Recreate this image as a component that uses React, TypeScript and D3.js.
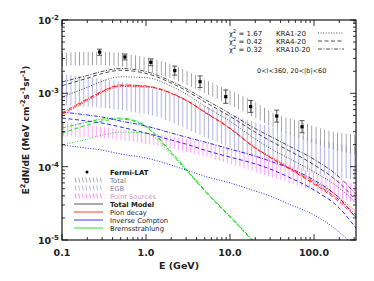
import * as d3 from "d3";
import { useEffect, useRef } from "react";

// energy grid of the model curves (GeV)
const energies = [0.1, 0.2, 0.3, 0.5, 1, 2, 3, 5, 10, 20, 30, 50, 100, 200, 316];

// pion decay, one per propagation model
const pionKRA1 = [5.0e-4, 7.9e-4, 1.02e-3, 1.24e-3, 1.22e-3, 9.9e-4, 8.0e-4, 5.5e-4, 3.35e-4, 1.82e-4, 1.38e-4, 9.9e-5, 6.3e-5, 3.8e-5, 2.4e-5];
const pionKRA4 = [5.2e-4, 8.2e-4, 1.05e-3, 1.27e-3, 1.24e-3, 1.0e-3, 8.0e-4, 5.5e-4, 3.3e-4, 1.78e-4, 1.33e-4, 9.4e-5, 5.8e-5, 3.3e-5, 2.05e-5];
const pionKRA10 = [5.4e-4, 8.4e-4, 1.07e-3, 1.3e-3, 1.26e-3, 1.01e-3, 8.1e-4, 5.6e-4, 3.35e-4, 1.8e-4, 1.35e-4, 9.6e-5, 6.0e-5, 3.5e-5, 2.2e-5];

// inverse Compton
const icKRA1 = [1.97e-4, 1.79e-4, 1.68e-4, 1.49e-4, 1.31e-4, 1.05e-4, 9.0e-5, 7.4e-5, 6.0e-5, 4.65e-5, 3.97e-5, 3.09e-5, 2.19e-5, 1.28e-5, 7.8e-6];
const icKRA4 = [4.6e-4, 4.19e-4, 3.93e-4, 3.47e-4, 2.87e-4, 2.31e-4, 2.03e-4, 1.68e-4, 1.35e-4, 1.09e-4, 9.3e-5, 7.2e-5, 4.8e-5, 2.72e-5, 1.45e-5];
const icKRA10 = [5.56e-4, 5.06e-4, 4.75e-4, 4.19e-4, 3.58e-4, 2.87e-4, 2.53e-4, 2.17e-4, 1.74e-4, 1.39e-4, 1.19e-4, 9.6e-5, 6.56e-5, 3.73e-5, 1.99e-5];

// bremsstrahlung (falls off the bottom above ~50 GeV)
const bremKRA1 = [1.97e-4, 2.38e-4, 2.7e-4, 2.96e-4, 2.87e-4, 1.45e-4, 9.0e-5, 4.7e-5, 2.1e-5, 9.0e-6, 5.4e-6, 2.9e-6, null, null, null];
const bremKRA4 = [2.87e-4, 3.69e-4, 4.19e-4, 4.46e-4, 3.47e-4, 1.53e-4, 9.0e-5, 4.65e-5, 2.05e-5, 8.8e-6, 5.3e-6, 2.9e-6, null, null, null];
const bremKRA10 = [3.36e-4, 4.06e-4, 4.46e-4, 4.6e-4, 3.58e-4, 1.58e-4, 9.3e-5, 4.8e-5, 2.12e-5, 9.1e-6, 5.5e-6, 3.0e-6, null, null, null];

// total model
const totalKRA1 = [8.9e-4, 1.21e-3, 1.46e-3, 1.68e-3, 1.64e-3, 1.25e-3, 9.8e-4, 6.7e-4, 4.16e-4, 2.38e-4, 1.78e-4, 1.3e-4, 8.5e-5, 5.1e-5, 3.2e-5];
const totalKRA4 = [1.27e-3, 1.61e-3, 1.86e-3, 2.06e-3, 1.87e-3, 1.38e-3, 1.09e-3, 7.65e-4, 4.86e-4, 2.95e-4, 2.26e-4, 1.66e-4, 1.06e-4, 6.0e-5, 3.5e-5];
const totalKRA10 = [1.43e-3, 1.75e-3, 1.99e-3, 2.18e-3, 1.98e-3, 1.46e-3, 1.16e-3, 8.3e-4, 5.3e-4, 3.3e-4, 2.6e-4, 1.92e-4, 1.26e-4, 7.2e-5, 4.2e-5];

// hatched bands
const totalBandE = [0.1, 0.3, 1, 2, 5, 10, 20, 30, 70, 150, 316];
const totalBandHi = [3.6e-3, 3.7e-3, 3.1e-3, 2.5e-3, 1.55e-3, 1.1e-3, 7.6e-4, 5.7e-4, 4.1e-4, 3.1e-4, 2.7e-4];
const totalBandLo = [2.35e-3, 2.43e-3, 2.0e-3, 1.6e-3, 1.0e-3, 7.0e-4, 4.6e-4, 3.6e-4, 2.4e-4, 1.8e-4, 1.45e-4];

const egbE = [0.1, 1.1, 4.4, 17, 68, 316];
const egbHi = [1.83e-3, 1.18e-3, 7.1e-4, 4.3e-4, 2.7e-4, 1.85e-4];
const egbLo = [6.9e-4, 5.1e-4, 2.7e-4, 1.44e-4, 9.0e-5, 6.6e-5];

const psE = [0.1, 0.28, 1.1, 4.4, 17, 68, 316];
const psHi = [4.1e-4, 3.5e-4, 2.9e-4, 2.2e-4, 1.53e-4, 9.6e-5, 5.6e-5];
const psLo = [2.6e-4, 2.5e-4, 2.0e-4, 1.44e-4, 9.0e-5, 5.4e-5, 3.2e-5];

// Fermi-LAT data
const fermiE = [0.28, 0.56, 1.14, 2.2, 4.4, 8.9, 17.6, 36, 72];
const fermiF = [3.65e-3, 3.13e-3, 2.65e-3, 2.04e-3, 1.44e-3, 9.0e-4, 6.6e-4, 4.9e-4, 3.5e-4];
const fermiHi = [4.0e-3, 3.44e-3, 2.95e-3, 2.35e-3, 1.73e-3, 1.11e-3, 8.0e-4, 5.9e-4, 4.25e-4];
const fermiLo = [3.3e-3, 2.85e-3, 2.38e-3, 1.77e-3, 1.2e-3, 7.3e-4, 5.5e-4, 4.05e-4, 2.9e-4];

const xTickValues = [0.1, 1, 10, 100];
const xTickLabels = ["0.1", "1.0", "10.0", "100.0"];
const yTickValues = [1e-2, 1e-3, 1e-4, 1e-5];
const yTickExps = ["-2", "-3", "-4", "-5"];

const modelNames = ["KRA1-20", "KRA4-20", "KRA10-20"];
const chi2 = ["1.67", "0.42", "0.32"];
const dashes = ["1,1.6", "4,2.5", "4,1.5,1,1.5"];

const legendLabels = ["Fermi-LAT", "Total", "EGB", "Point Sources", "Total Model", "Pion decay", "Inverse Compton", "Bremsstrahlung"];

export default function App() {
  const ref = useRef<SVGSVGElement>(null);

  useEffect(() => {
    document.body.style.margin = "0";
    const svg = d3.select(ref.current);
    svg.selectAll("*").remove();

    const left = 62, right = 356, top = 20, bottom = 240;
    const font = "DejaVu Sans, sans-serif";

    const x = d3.scaleLog().domain([0.1, 316]).range([left, right]);
    const y = d3.scaleLog().domain([1e-5, 1e-2]).range([bottom, top]);

    const defs = svg.append("defs");
    defs.append("clipPath").attr("id", "plotClip")
      .append("rect").attr("x", left).attr("y", top)
      .attr("width", right - left).attr("height", bottom - top);

    const hatch = (id: string, color: string, w: number, gap: number) => {
      const p = defs.append("pattern").attr("id", id)
        .attr("patternUnits", "userSpaceOnUse")
        .attr("width", gap).attr("height", 10);
      p.append("line").attr("x1", gap / 2).attr("x2", gap / 2)
        .attr("y1", 0).attr("y2", 10)
        .attr("stroke", color).attr("stroke-width", w);
    };
    hatch("hGray", "#999", 0.9, 4.3);
    hatch("hBlue", "#b4b4e2", 1.1, 4.3);
    hatch("hPink", "#ffa6ff", 1.1, 4.1);

    const g = svg.append("g").attr("clip-path", "url(#plotClip)");

    const band = (E: number[], hi: number[], lo: number[], fill: string) => {
      const pts = E.map((e, i) => [e, hi[i], lo[i]]);
      const area = d3.area<number[]>()
        .x((d) => x(d[0]))
        .y0((d) => y(d[2]))
        .y1((d) => y(d[1]))
        .curve(d3.curveMonotoneX);
      g.append("path").attr("d", area(pts)).attr("fill", fill);
    };
    band(egbE, egbHi, egbLo, "url(#hBlue)");
    band(psE, psHi, psLo, "url(#hPink)");
    band(totalBandE, totalBandHi, totalBandLo, "url(#hGray)");

    const line = d3.line<[number, number | null]>()
      .defined((d) => d[1] != null)
      .x((d) => x(d[0]))
      .y((d) => y(d[1] as number))
      .curve(d3.curveMonotoneX);

    const drawSet = (sets: (number | null)[][], color: string, width: number) => {
      sets.forEach((vals, k) => {
        g.append("path")
          .attr("d", line(energies.map((e, i) => [e, vals[i]])))
          .attr("fill", "none")
          .attr("stroke", color)
          .attr("stroke-width", width)
          .attr("stroke-dasharray", dashes[k]);
      });
    };
    drawSet([bremKRA1, bremKRA4, bremKRA10], "#22dd22", 1);
    drawSet([icKRA1, icKRA4, icKRA10], "#2a2aff", 1);
    drawSet([pionKRA1, pionKRA4, pionKRA10], "#ff2a2a", 1);
    drawSet([totalKRA1, totalKRA4, totalKRA10], "#222", 0.8);

    // data points
    const pts = g.append("g");
    fermiE.forEach((e, i) => {
      const cx = x(e);
      pts.append("line").attr("x1", cx).attr("x2", cx)
        .attr("y1", y(fermiHi[i])).attr("y2", y(fermiLo[i]))
        .attr("stroke", "#333").attr("stroke-width", 0.8);
      [fermiHi[i], fermiLo[i]].forEach((v) => {
        pts.append("line").attr("x1", cx - 2.5).attr("x2", cx + 2.5)
          .attr("y1", y(v)).attr("y2", y(v))
          .attr("stroke", "#333").attr("stroke-width", 0.8);
      });
      pts.append("rect").attr("x", cx - 1.6).attr("y", y(fermiF[i]) - 1.6)
        .attr("width", 3.2).attr("height", 3.2).attr("fill", "#000");
    });

    // frame and ticks
    svg.append("rect").attr("x", left).attr("y", top)
      .attr("width", right - left).attr("height", bottom - top)
      .attr("fill", "none").attr("stroke", "#000").attr("stroke-width", 1.1);

    const ticks = svg.append("g").attr("stroke", "#000").attr("stroke-width", 0.8);
    x.ticks().forEach((t) => {
      const major = Math.abs(Math.log10(t) - Math.round(Math.log10(t))) < 1e-6;
      const len = major ? 6 : 3;
      const px = x(t);
      ticks.append("line").attr("x1", px).attr("x2", px).attr("y1", bottom).attr("y2", bottom - len);
      ticks.append("line").attr("x1", px).attr("x2", px).attr("y1", top).attr("y2", top + len);
    });
    y.ticks().forEach((t) => {
      const major = Math.abs(Math.log10(t) - Math.round(Math.log10(t))) < 1e-6;
      const len = major ? 6 : 3;
      const py = y(t);
      ticks.append("line").attr("x1", left).attr("x2", left + len).attr("y1", py).attr("y2", py);
      ticks.append("line").attr("x1", right).attr("x2", right - len).attr("y1", py).attr("y2", py);
    });

    // tick labels
    xTickValues.forEach((v, i) => {
      svg.append("text").attr("x", x(v)).attr("y", 256)
        .attr("text-anchor", "middle").attr("font-family", font)
        .attr("font-weight", "bold").attr("font-size", 9.5).attr("fill", "#222")
        .text(xTickLabels[i]);
    });
    yTickValues.forEach((v, i) => {
      const t = svg.append("text").attr("x", 59).attr("y", y(v) + 4)
        .attr("text-anchor", "end").attr("font-family", font)
        .attr("font-weight", "bold").attr("font-size", 9.5).attr("fill", "#222");
      t.append("tspan").text("10");
      t.append("tspan").attr("dy", -4).attr("font-size", 7).text(yTickExps[i]);
    });

    // axis titles
    svg.append("text").attr("x", 179).attr("y", 269)
      .attr("text-anchor", "middle").attr("font-family", font)
      .attr("font-weight", "bold").attr("font-size", 9.5).attr("fill", "#222")
      .text("E (GeV)");

    const yl = svg.append("text")
      .attr("transform", "translate(29,130) rotate(-90)")
      .attr("text-anchor", "middle").attr("font-family", font)
      .attr("font-weight", "bold").attr("font-size", 9).attr("fill", "#222");
    const parts: [string, boolean][] = [
      ["E", false], ["2", true], ["dN/dE (MeV cm", false], ["-2", true],
      ["s", false], ["-1", true], ["sr", false], ["-1", true], [")", false],
    ];
    let up = false;
    parts.forEach(([s, sup]) => {
      const ts = yl.append("tspan").text(s);
      if (sup && !up) { ts.attr("dy", -4).attr("font-size", 6.5); up = true; }
      else if (sup) ts.attr("font-size", 6.5);
      else if (up) { ts.attr("dy", 4); up = false; }
    });

    // model legend (top right)
    modelNames.forEach((name, k) => {
      const yy = 35.5 + k * 8;
      const t = svg.append("text").attr("x", 229).attr("y", yy)
        .attr("font-family", font).attr("font-size", 7).attr("fill", "#222");
      t.append("tspan").text("\u03c7");
      t.append("tspan").attr("dy", -2.5).attr("font-size", 5).text("2");
      t.append("tspan").attr("dy", 2.5).text(" = " + chi2[k]);
      svg.append("text").attr("x", 276).attr("y", yy)
        .attr("font-family", font).attr("font-size", 7).attr("fill", "#222")
        .text(name);
      svg.append("line").attr("x1", 318).attr("x2", 344)
        .attr("y1", yy - 2.5).attr("y2", yy - 2.5)
        .attr("stroke", "#222").attr("stroke-width", 0.8)
        .attr("stroke-dasharray", dashes[k]);
    });
    svg.append("text").attr("x", 257).attr("y", 72.5)
      .attr("font-family", font).attr("font-size", 6.5).attr("fill", "#222")
      .text("0<l<360, 20<|b|<60");

    // component legend (bottom left)
    const lg = svg.append("g");
    const textColors = ["#111", "#777", "#8888aa", "#c99ac9", "#222", "#222", "#222", "#222"];
    legendLabels.forEach((lab, i) => {
      const yy = 172 + i * 8;
      lg.append("text").attr("x", 110).attr("y", yy + 2.5)
        .attr("font-family", font).attr("font-size", 6.8)
        .attr("font-weight", i === 0 || i === 4 ? "bold" : "normal")
        .attr("fill", textColors[i]).text(lab);
      if (i === 0) {
        lg.append("circle").attr("cx", 87).attr("cy", yy).attr("r", 1.5).attr("fill", "#000");
      } else if (i <= 3) {
        const col = ["#999", "#b4b4e2", "#ffa6ff"][i - 1];
        const w = [0.8, 0.9, 1.2][i - 1];
        d3.range(75, 102, 3.6).forEach((sx) => {
          lg.append("line").attr("x1", sx).attr("x2", sx + 1.2)
            .attr("y1", yy - 2.5).attr("y2", yy + 2.5)
            .attr("stroke", col).attr("stroke-width", w);
        });
      } else {
        const col = ["#555", "#ff3a3a", "#3a3aff", "#33dd33"][i - 4];
        lg.append("line").attr("x1", 74).attr("x2", 103)
          .attr("y1", yy).attr("y2", yy)
          .attr("stroke", col).attr("stroke-width", 1);
      }
    });
  }, []);

  return <svg ref={ref} width={374} height={281} style={{ display: "block", background: "#fff" }} />;
}
